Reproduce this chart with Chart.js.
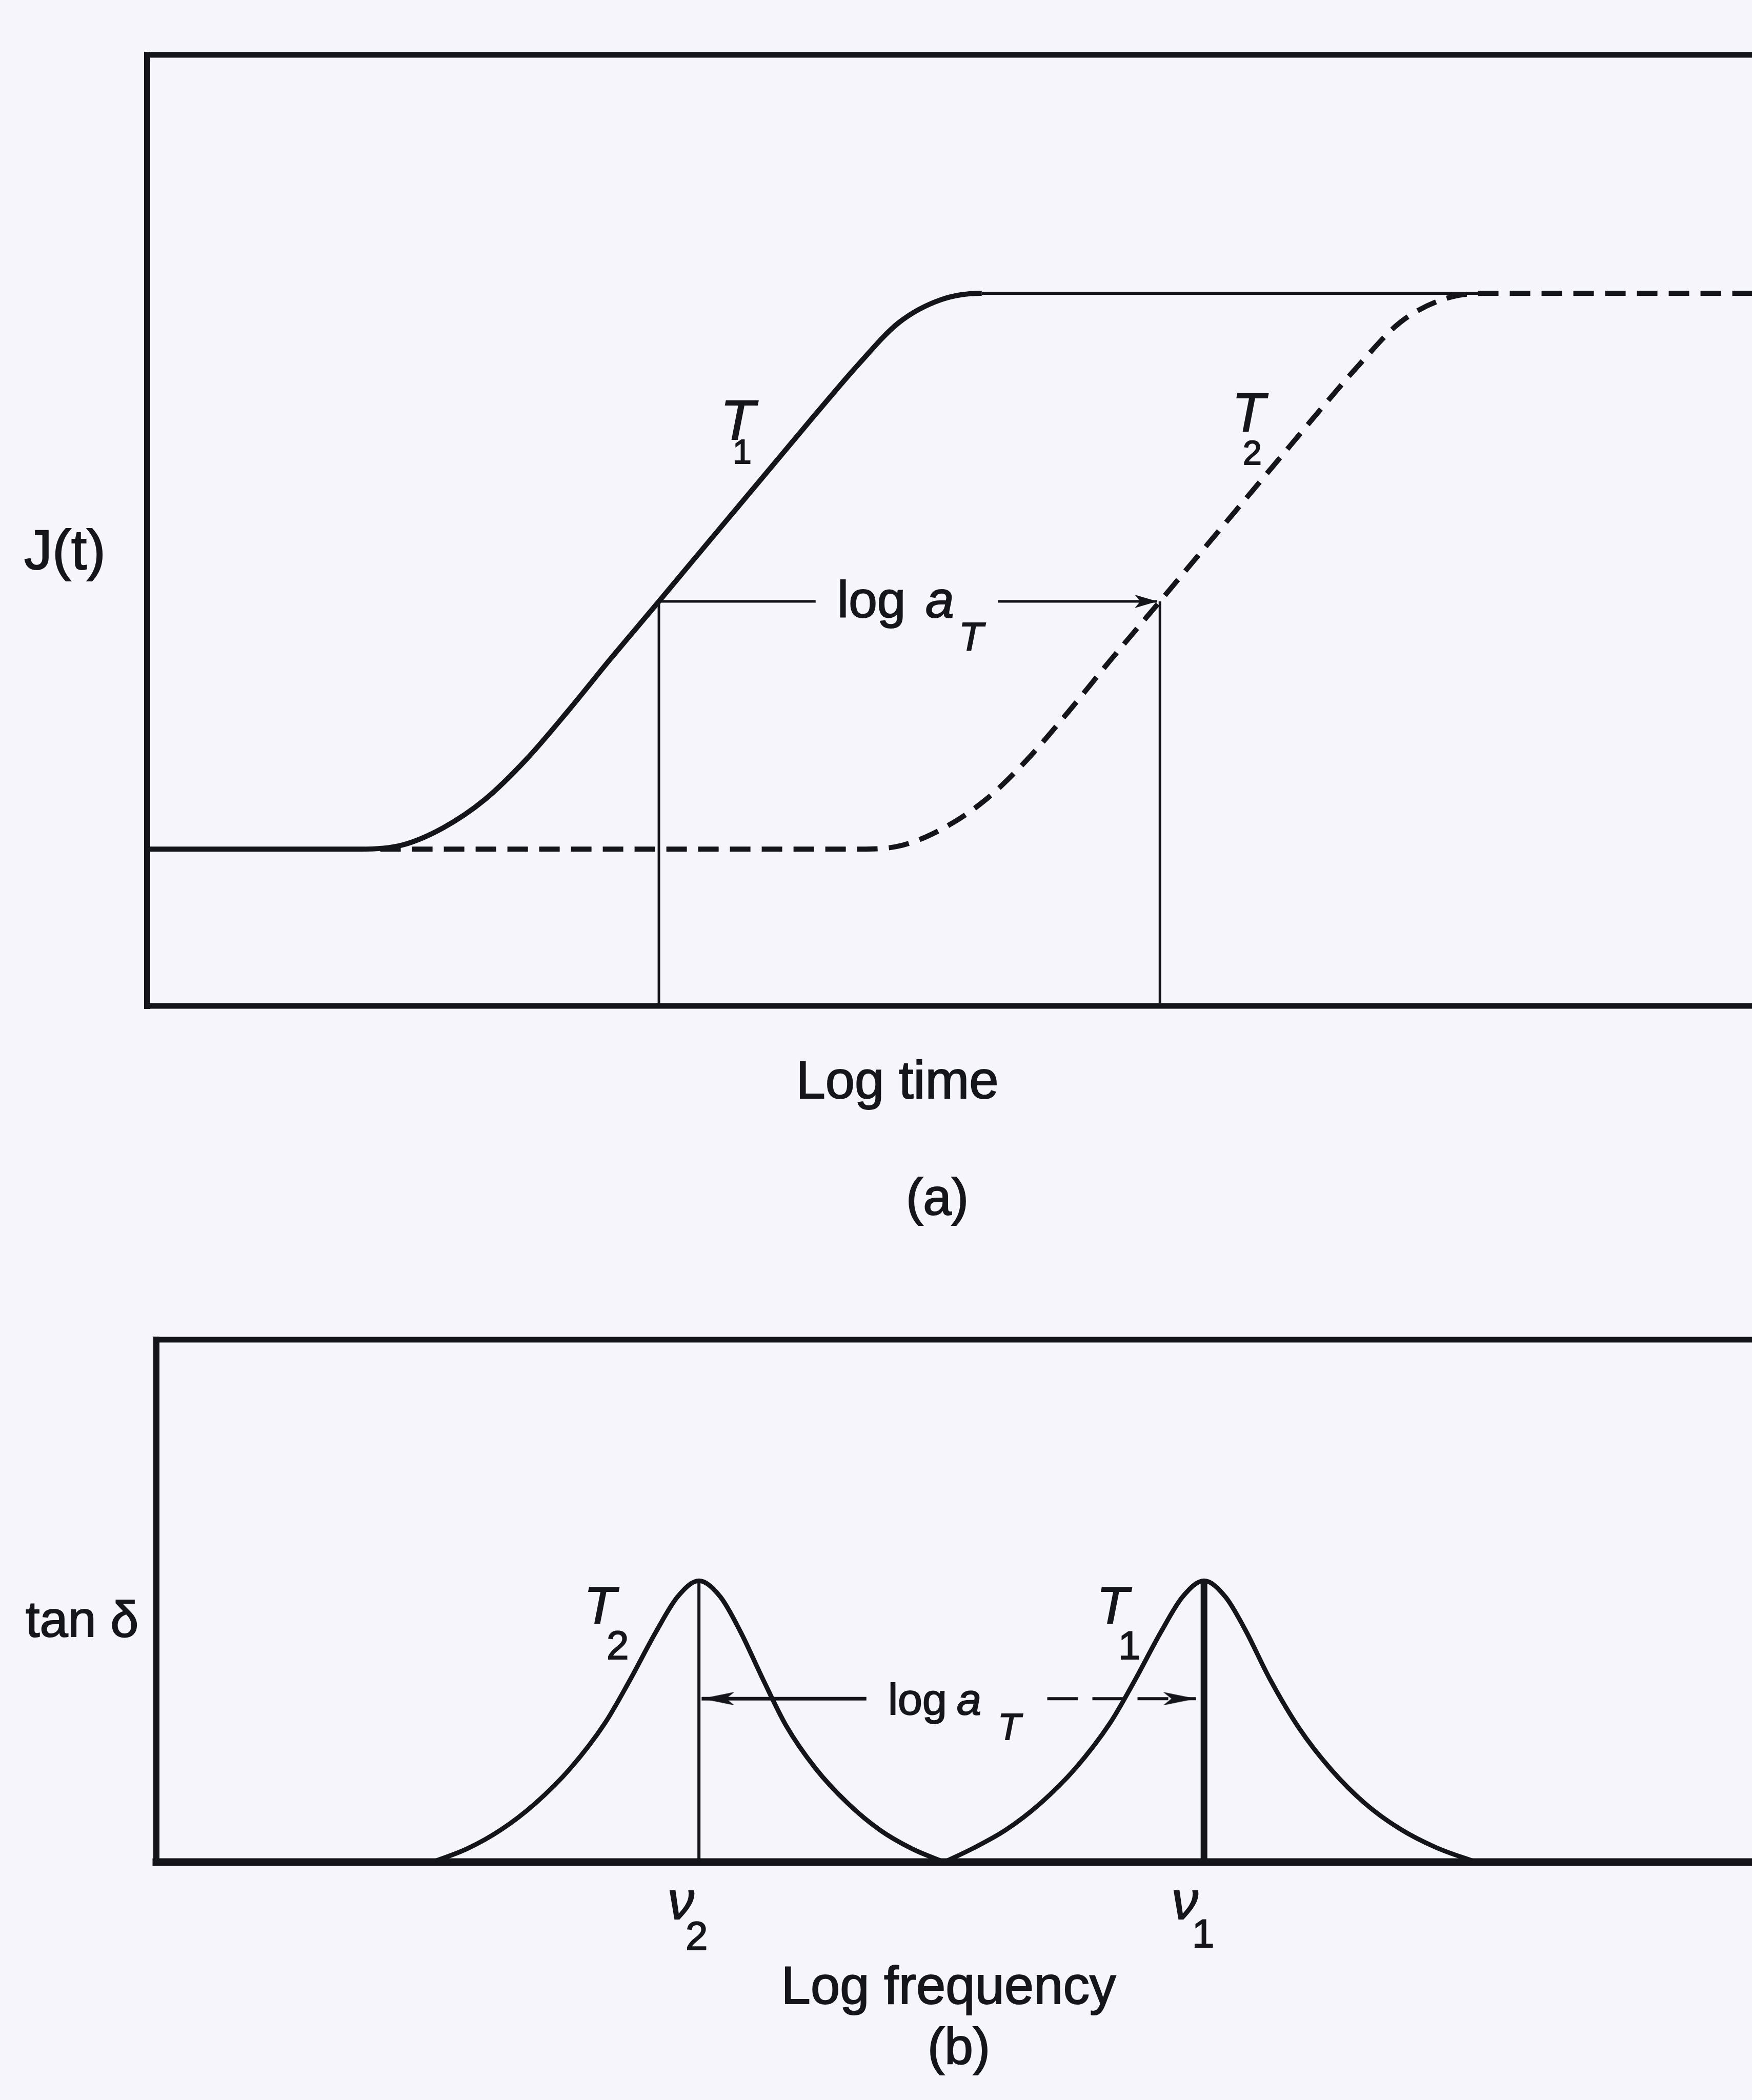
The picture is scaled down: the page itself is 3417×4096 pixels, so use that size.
<!DOCTYPE html>
<html>
<head>
<meta charset="utf-8">
<script src="https://cdn.jsdelivr.net/npm/chart.js@4.4.1/dist/chart.umd.min.js"></script>
<style>
  html, body { margin: 0; padding: 0; }
  body {
    width: 3417px; height: 4096px; overflow: hidden; position: relative;
    background: #f5f5fb; color: #15151d;
    font-family: "Liberation Sans", Arial, sans-serif;
  }
  canvas { position: absolute; }
  .lbl { position: absolute; line-height: 1; white-space: nowrap; -webkit-text-stroke: 2px #15151d; }
  .it { font-style: italic; }
</style>
</head>
<body>
<canvas id="creep"></canvas>
<canvas id="loss"></canvas>
<script>
// (a) creep compliance J(t) vs log time, T1 solid and T2 dashed
const timeT1 = [0, 1.59, 1.90, 2.21, 2.52, 2.83, 3.14, 3.45, 3.82, 4.07, 4.38, 4.69, 5.00, 5.31, 5.61, 5.92, 6.23, 9.97];
const complianceT1 = [1.17, 1.17, 1.20, 1.33, 1.54, 1.84, 2.20, 2.58, 3.02, 3.32, 3.69, 4.06, 4.43, 4.79, 5.10, 5.27, 5.32, 5.32];
const timeT2 = [1.74, 5.33, 5.64, 5.95, 6.26, 6.57, 6.88, 7.19, 7.56, 7.81, 8.12, 8.43, 8.74, 9.05, 9.35, 9.66, 9.97, 12.5];
const complianceT2 = [1.17, 1.17, 1.20, 1.33, 1.54, 1.84, 2.20, 2.58, 3.02, 3.32, 3.69, 4.06, 4.43, 4.79, 5.10, 5.27, 5.32, 5.32];
// same compliance reached at these two times -> log aT
const shiftTimes = [3.82, 7.56];
const shiftCompliance = 3.02;
const shiftArrowLeft = [3.82, 4.99];
const shiftArrowRight = [6.35, 7.54];

// (b) loss tangent vs log frequency
const freqT2 = [2.06, 2.32, 2.57, 2.83, 3.09, 3.35, 3.53, 3.73, 3.89, 4.05, 4.21, 4.36, 4.53, 4.70, 4.92, 5.16, 5.40, 5.64, 5.88];
const tanT2 = [0, 0.10, 0.24, 0.44, 0.70, 1.04, 1.35, 1.72, 1.98, 2.10, 1.98, 1.72, 1.36, 1.02, 0.70, 0.44, 0.24, 0.10, 0];
const freqT1 = [5.88, 6.09, 6.34, 6.60, 6.86, 7.12, 7.30, 7.50, 7.66, 7.82, 7.98, 8.13, 8.31, 8.53, 8.77, 9.02, 9.28, 9.55, 9.85];
const tanT1 = [0, 0.10, 0.24, 0.44, 0.70, 1.04, 1.35, 1.72, 1.98, 2.10, 1.98, 1.73, 1.37, 1.00, 0.69, 0.44, 0.25, 0.11, 0];
const peakFreqs = [4.05, 7.82]; // nu2, nu1
const peakTan = 2.10;
const freqArrowLevel = 1.22;
const freqArrowLeft = [5.30, 4.07];
const freqArrowRight = [6.65, 7.76];

const INK = '#14141c';
const U = 261.24; // px per axis unit, both panels

const pts = (xs, ys) => xs.map((x, i) => ({ x, y: ys[i] }));
const flat = (xs, y) => xs.map(x => ({ x, y }));

function arrowHead(len, half) {
  // tip sits at the canvas centre so the point lands on the data value
  const c = document.createElement('canvas');
  c.width = len * 2; c.height = half * 2;
  const g = c.getContext('2d');
  g.fillStyle = INK;
  g.beginPath();
  g.moveTo(len, half);
  g.lineTo(0, 0);
  g.lineTo(len * 0.25, half);
  g.lineTo(0, half * 2);
  g.closePath();
  g.fill();
  return c;
}

const framePlugin = {
  id: 'frame',
  beforeDatasetsDraw(chart, args, opts) {
    const { ctx, chartArea: a } = chart;
    ctx.save();
    ctx.strokeStyle = INK;
    ctx.lineCap = 'square';
    const side = (w, x0, y0, x1, y1) => {
      ctx.lineWidth = w;
      ctx.beginPath(); ctx.moveTo(x0, y0); ctx.lineTo(x1, y1); ctx.stroke();
    };
    side(opts.left, a.left, a.top, a.left, a.bottom);
    side(opts.top, a.left, a.top, a.right, a.top);
    side(opts.bottom, a.left, a.bottom, a.right, a.bottom);
    ctx.restore();
  }
};

function line(data, width, extra = {}) {
  return Object.assign({
    data, borderColor: INK, borderWidth: width, pointRadius: 0,
    showLine: true, tension: 0, borderCapStyle: 'butt'
  }, extra);
}

function arrow(xs, y, width, head, rotation, extra = {}) {
  return line(flat(xs, y), width, Object.assign({
    pointStyle: head, pointRadius: [0, 1], pointRotation: rotation
  }, extra));
}

function panel(id, left, bottom, xMax, yMax, datasets, frame) {
  const pad = 40;
  const w = Math.round(xMax * U), h = Math.round(yMax * U);
  const cv = document.getElementById(id);
  cv.width = w + 2 * pad;
  cv.height = h + 2 * pad;
  cv.style.left = (left - pad) + 'px';
  cv.style.top = (bottom - h - pad) + 'px';
  return new Chart(cv, {
    type: 'scatter',
    data: { datasets },
    options: {
      responsive: false, animation: false, events: [], devicePixelRatio: 1,
      layout: { padding: pad },
      plugins: { legend: { display: false }, tooltip: { enabled: false }, frame },
      scales: {
        x: { type: 'linear', min: 0, max: xMax, display: false },
        y: { type: 'linear', min: 0, max: yMax, display: false }
      }
    },
    plugins: [framePlugin]
  });
}

const smallHead = arrowHead(44, 13);
const longHead = arrowHead(64, 13);

panel('creep', 287.3, 1961.6, 12.5, 7.1, [
  line(pts(timeT1, complianceT1), 10, {
    cubicInterpolationMode: 'monotone',
    segment: { borderWidth: c => c.p0.parsed.x >= 6.2 ? 6 : 10 }
  }),
  line(pts(timeT2, complianceT2), 10, {
    cubicInterpolationMode: 'monotone', borderDash: [40, 22]
  }),
  line([{ x: shiftTimes[0], y: 0 }, { x: shiftTimes[0], y: shiftCompliance }], 5),
  line([{ x: shiftTimes[1], y: 0 }, { x: shiftTimes[1], y: shiftCompliance }], 5),
  line(flat(shiftArrowLeft, shiftCompliance), 5),
  arrow(shiftArrowRight, shiftCompliance, 5, smallHead, 0)
], { left: 12, top: 11, bottom: 11 });

panel('loss', 305.1, 3632, 12.5, 3.9, [
  line(pts(freqT2, tanT2), 9, { cubicInterpolationMode: 'monotone' }),
  line(pts(freqT1, tanT1), 9, { cubicInterpolationMode: 'monotone' }),
  line([{ x: peakFreqs[0], y: 0 }, { x: peakFreqs[0], y: peakTan }], 6),
  line([{ x: peakFreqs[1], y: 0 }, { x: peakFreqs[1], y: peakTan }], 13),
  arrow(freqArrowLeft, freqArrowLevel, 7, longHead, 180),
  arrow(freqArrowRight, freqArrowLevel, 6, longHead, 0, { borderDash: [60, 28] })
], { left: 12, top: 11, bottom: 15 });

// text placed by its baseline
function label(text, x, base, size, opts = {}) {
  const el = document.createElement('div');
  el.className = 'lbl' + (opts.italic ? ' it' : '');
  el.textContent = text;
  el.style.fontSize = size + 'px';
  el.style.left = x + 'px';
  el.style.top = (base - 0.8465 * size) + 'px';
  if (opts.center) el.style.transform = 'translateX(-50%)';
  document.body.appendChild(el);
}

label('J(t)', 47, 1110, 110);
label('T', 1405, 857, 110, { italic: true });
label('1', 1429, 904, 66);
label('T', 2403, 841, 105, { italic: true });
label('2', 2424, 906, 66);
label('log', 1633, 1204, 100);
label('a', 1805, 1204, 100, { italic: true });
label('T', 1870, 1269, 78, { italic: true });
label('Log time', 1750, 2142, 103, { center: true });
label('(a)', 1828, 2369, 100, { center: true });

label('tan δ', 50, 3192, 99);
label('T', 1139, 3167, 102, { italic: true });
label('2', 1183, 3236, 78);
label('T', 2139, 3167, 102, { italic: true });
label('1', 2181, 3236, 78);
label('log', 1732, 3344, 86);
label('a', 1866, 3344, 86, { italic: true });
label('T', 1946, 3393, 73, { italic: true });
label('ν', 1302, 3743, 104, { italic: true });
label('2', 1337, 3803, 78);
label('ν', 2285, 3743, 104, { italic: true });
label('1', 2325, 3798, 78);
label('Log frequency', 1850, 3908, 103, { center: true });
label('(b)', 1870, 4026, 100, { center: true });
</script>
</body>
</html>
